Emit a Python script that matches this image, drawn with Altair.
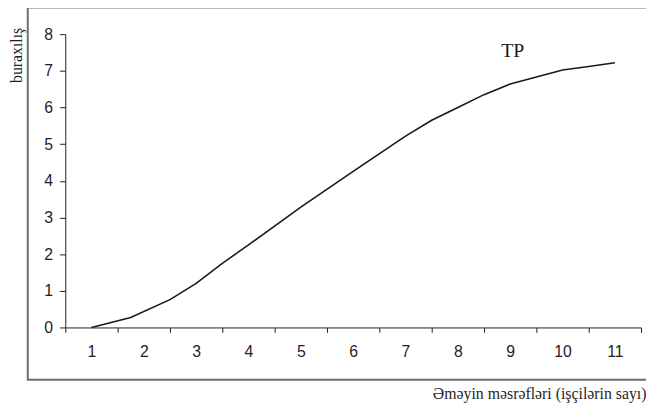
import altair as alt
import pandas as pd

# data
labor = [1, 1.75, 2.5, 3, 3.5, 4, 5, 6, 7, 7.5, 8, 8.5, 9, 9.5, 10, 10.5, 11]
output = [0, 0.27, 0.76, 1.2, 1.75, 2.25, 3.28, 4.26, 5.22, 5.65, 6.0, 6.35, 6.64, 6.83, 7.02, 7.12, 7.22]
categories = list(range(1, 12))
y_ticks = list(range(0, 9))
curve_label = "TP"
label_pos = (9.05, 7.55)

x_title = "Əməyin məsrəfləri (işçilərin sayı)"
y_title = "buraxılış"

line_df = pd.DataFrame({"x": labor, "y": output})
cat_df = pd.DataFrame({"c": categories})
lab_df = pd.DataFrame({"x": [label_pos[0]], "y": [label_pos[1]], "t": [curve_label]})
box_df = pd.DataFrame({"k": [0]})

AX = "#1f1f1f"
SANS = "Liberation Sans, Arial, sans-serif"
SERIF = "Liberation Serif, Times New Roman, serif"

xq = alt.Scale(domain=[0.5, 11.5], nice=False, zero=False)
yq = alt.Scale(domain=[0, 8], nice=False)

y_axis = alt.Axis(
    values=y_ticks,
    title=y_title,
    titleFont=SERIF,
    titleFontSize=16,
    titleFontWeight="normal",
    titleColor=AX,
    titleAngle=270,
    titleAlign="center",
    titleBaseline="middle",
    titleX=-49,
    titleY=21,
    labelFont=SANS,
    labelFontSize=16,
    labelColor=AX,
    labelPadding=7,
    labelOverlap=False,
    tickSize=6,
    tickColor=AX,
    domainColor=AX,
    grid=False,
)

box = alt.Chart(box_df).mark_rect(filled=False, stroke="#6e6e6e", strokeWidth=2, clip=False).encode(
    x=alt.value(-38), x2=alt.value(640), y=alt.value(-27), y2=alt.value(350)
)

axis_layer = alt.Chart(cat_df).mark_point(opacity=0).encode(
    x=alt.X(
        "c:O",
        scale=alt.Scale(type="band", paddingInner=0, paddingOuter=0),
        axis=alt.Axis(
            title=x_title,
            titleFont=SERIF,
            titleFontSize=16,
            titleFontWeight="normal",
            titleColor=AX,
            titleAnchor="end",
            titleAlign="right",
            titleBaseline="middle",
            titleX=588,
            titleY=67,
            labelFont=SANS,
            labelFontSize=16,
            labelColor=AX,
            labelAngle=0,
            labelPadding=11,
            labelOverlap=False,
            tickSize=5,
            tickBand="extent",
            tickColor=AX,
            domainColor=AX,
            grid=False,
        ),
    )
)

line = alt.Chart(line_df).mark_line(color="#1a1a1a", strokeWidth=1.6).encode(
    x=alt.X("x:Q", scale=xq, axis=None),
    y=alt.Y("y:Q", scale=yq, axis=y_axis),
)

label = alt.Chart(lab_df).mark_text(font=SERIF, fontSize=20, color="#1a1a1a").encode(
    x=alt.X("x:Q", scale=xq, axis=None),
    y=alt.Y("y:Q", scale=yq, axis=y_axis),
    text="t:N",
)

chart = (
    alt.layer(box, axis_layer, line, label)
    .resolve_scale(x="independent")
    .properties(
        width=583,
        height=297,
        padding={"left": 58, "top": 24, "right": 5, "bottom": 74},
        autosize=alt.AutoSizeParams(type="none"),
    )
    .configure_view(strokeWidth=0)
)

chart.save("out.html", embed_options={"renderer": "svg", "actions": False})
